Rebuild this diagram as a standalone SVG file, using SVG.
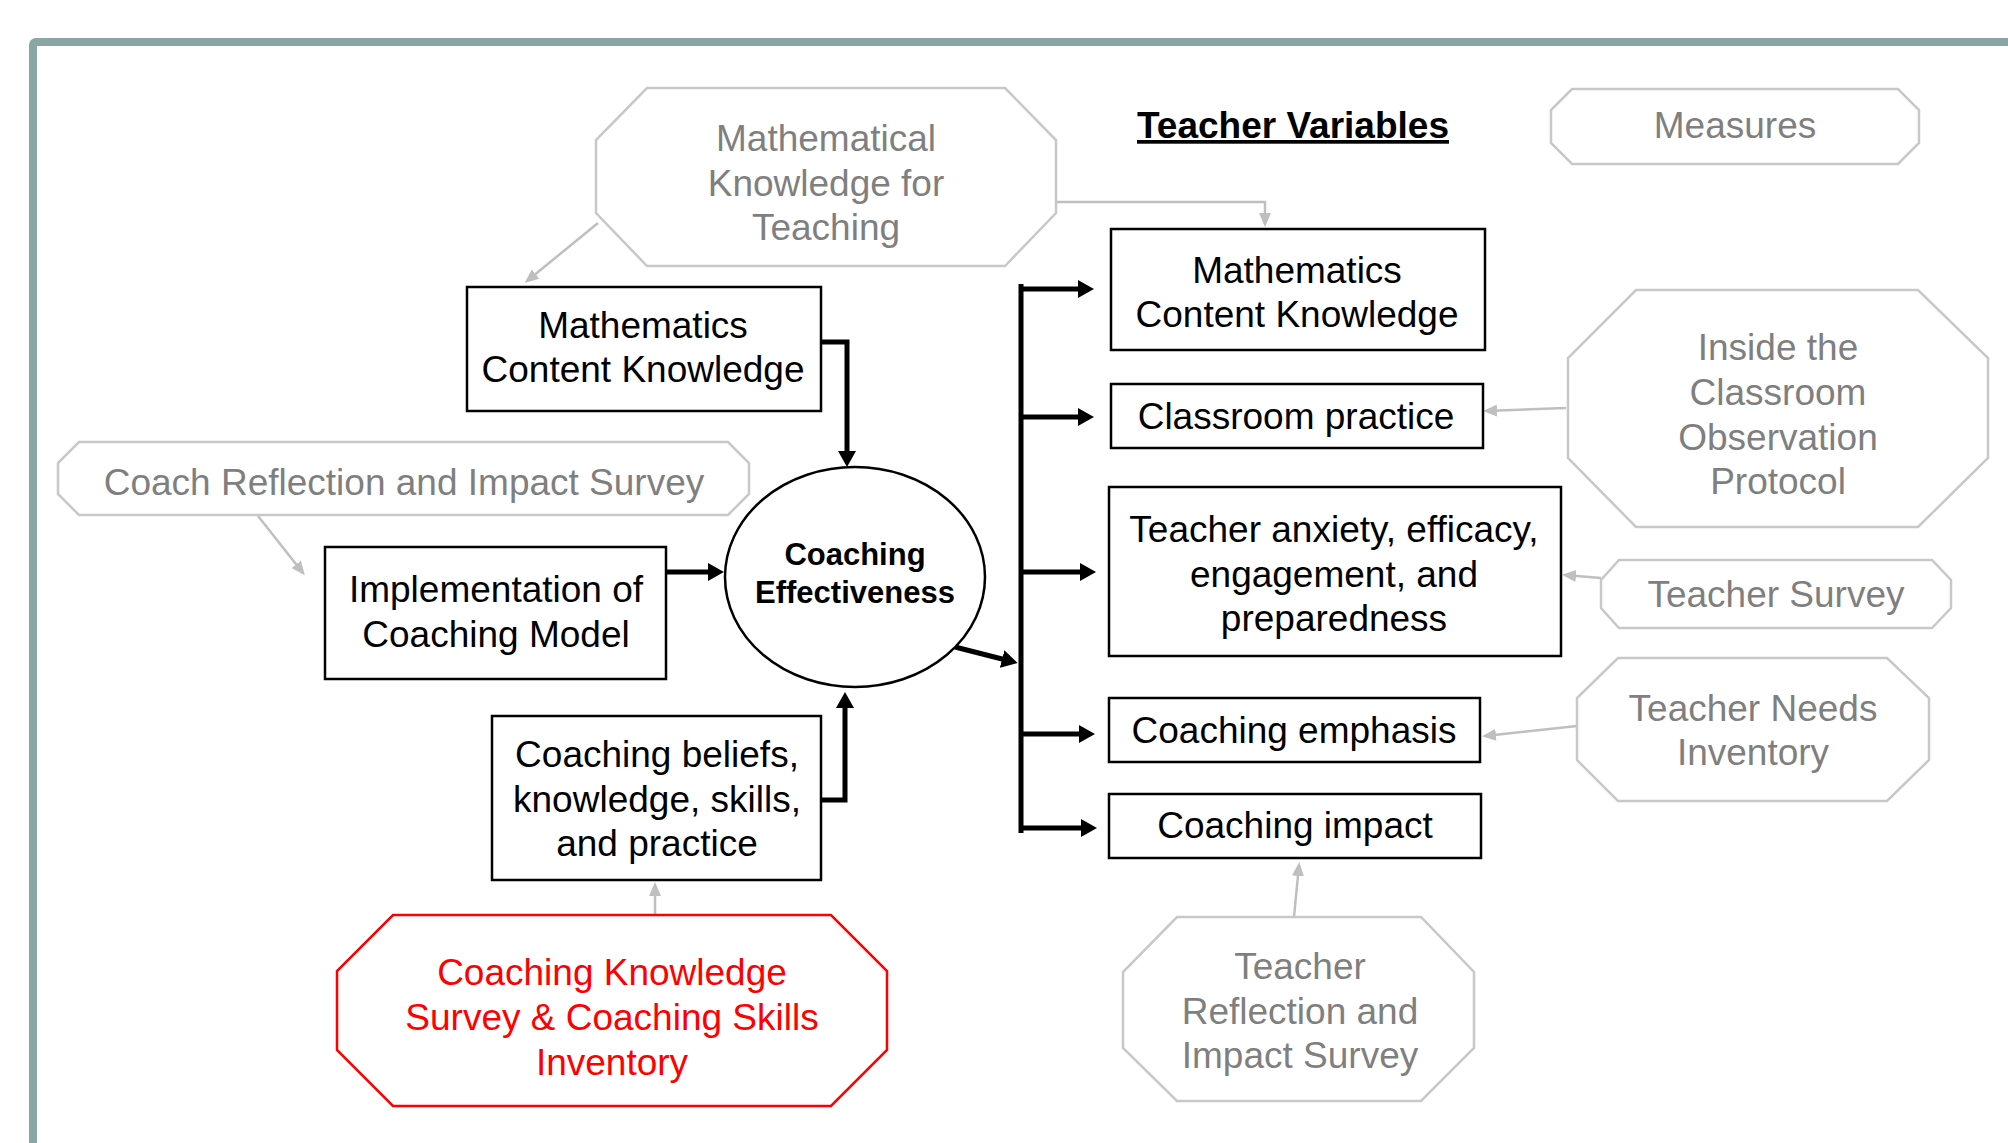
<svg xmlns="http://www.w3.org/2000/svg" width="2008" height="1143" viewBox="0 0 2008 1143">
  <style>
    text { font-family: "Liberation Sans", Arial, sans-serif; font-size: 37px; text-anchor: middle; }
    .box { fill: #ffffff; stroke: #000000; stroke-width: 2.5; }
    .oct { fill: #ffffff; stroke: #c8c8c8; stroke-width: 2.5; }
    .octred { fill: #ffffff; stroke: #ff0000; stroke-width: 2.5; }
    .dark { fill: #000000; }
    .grey { fill: #7f7f7f; }
    .red { fill: #ff0000; }
    .title { font-weight: bold; font-size: 37px; text-decoration: underline; }
    .centre { font-weight: bold; font-size: 31px; }
    .thick { fill: none; stroke: #000000; stroke-width: 5; }
    .thin { fill: none; stroke: #bfbfbf; stroke-width: 2.5; }
  </style>
  <defs>
    <marker id="ab" viewBox="0 0 16 18" refX="4" refY="9" markerWidth="16" markerHeight="18" markerUnits="userSpaceOnUse" orient="auto">
      <path d="M0,0 L16,9 L0,18 z" fill="#000000"/>
    </marker>
    <marker id="ag" viewBox="0 0 14 12" refX="11" refY="6" markerWidth="14" markerHeight="12" markerUnits="userSpaceOnUse" orient="auto">
      <path d="M0,0 L14,6 L0,12 z" fill="#bfbfbf"/>
    </marker>
  </defs>
  <rect width="2008" height="1143" fill="#ffffff"/>
  <rect id="frame" x="33" y="42" width="2100" height="1200" rx="3" fill="none" stroke="#8aa5a6" stroke-width="8"/>

  <g id="connectors">
    <path class="thick" d="M821,342 H847 V455" marker-end="url(#ab)"/>
    <path class="thick" d="M666,572 H712" marker-end="url(#ab)"/>
    <path class="thick" d="M821,800 H845 V704" marker-end="url(#ab)"/>
    <path class="thick" d="M955,647 L1006,660" marker-end="url(#ab)"/>
    <path class="thick" d="M1021,286.5 V830.5" stroke-linecap="square"/>
    <path class="thick" d="M1021,289 H1082" marker-end="url(#ab)"/>
    <path class="thick" d="M1021,417 H1082" marker-end="url(#ab)"/>
    <path class="thick" d="M1021,572 H1084" marker-end="url(#ab)"/>
    <path class="thick" d="M1021,734 H1083" marker-end="url(#ab)"/>
    <path class="thick" d="M1021,828 H1085" marker-end="url(#ab)"/>
    <path class="thin" d="M598,223 L527,281" marker-end="url(#ag)"/>
    <path class="thin" d="M1056,202 H1265 V224" marker-end="url(#ag)"/>
    <path class="thin" d="M258,516 L303,573" marker-end="url(#ag)"/>
    <path class="thin" d="M1566,408 L1486,411" marker-end="url(#ag)"/>
    <path class="thin" d="M1601,578 L1565,575" marker-end="url(#ag)"/>
    <path class="thin" d="M1577,726 L1485,736" marker-end="url(#ag)"/>
    <path class="thin" d="M1294,917 L1299,865" marker-end="url(#ag)"/>
    <path class="thin" d="M655,915 V885" marker-end="url(#ag)"/>
  </g>

  <g id="mkt">
    <polygon class="oct" points="647,88 1005,88 1056,140 1056,213 1005,266 647,266 596,213 596,140"/>
    <text class="grey" x="826" y="151">Mathematical</text>
    <text class="grey" x="826" y="196">Knowledge for</text>
    <text class="grey" x="826" y="240">Teaching</text>
  </g>

  <g id="teacher-variables">
    <text class="dark title" x="1293" y="138">Teacher Variables</text>
  </g>

  <g id="measures">
    <polygon class="oct" points="1572,89 1898,89 1919,110 1919,143 1898,164 1572,164 1551,143 1551,110"/>
    <text class="grey" x="1735" y="138">Measures</text>
  </g>

  <g id="mck-left">
    <rect class="box" x="467" y="287" width="354" height="124"/>
    <text class="dark" x="643" y="338">Mathematics</text>
    <text class="dark" x="643" y="382">Content Knowledge</text>
  </g>

  <g id="coach-reflection">
    <polygon class="oct" points="79,442 728,442 749,463 749,494 728,515 79,515 58,494 58,463"/>
    <text class="grey" x="404" y="495">Coach Reflection and Impact Survey</text>
  </g>

  <g id="implementation">
    <rect class="box" x="325" y="547" width="341" height="132"/>
    <text class="dark" x="496" y="602">Implementation of</text>
    <text class="dark" x="496" y="647">Coaching Model</text>
  </g>

  <g id="coaching-effectiveness">
    <ellipse cx="855" cy="577" rx="130" ry="110" fill="#ffffff" stroke="#000000" stroke-width="2.5"/>
    <text class="dark centre" x="855" y="565">Coaching</text>
    <text class="dark centre" x="855" y="603">Effectiveness</text>
  </g>

  <g id="coaching-beliefs">
    <rect class="box" x="492" y="716" width="329" height="164"/>
    <text class="dark" x="657" y="767">Coaching beliefs,</text>
    <text class="dark" x="657" y="812">knowledge, skills,</text>
    <text class="dark" x="657" y="856">and practice</text>
  </g>

  <g id="coaching-knowledge-survey">
    <polygon class="octred" points="393,915 831,915 887,971 887,1050 831,1106 393,1106 337,1050 337,971"/>
    <text class="red" x="612" y="985">Coaching Knowledge</text>
    <text class="red" x="612" y="1030">Survey &amp; Coaching Skills</text>
    <text class="red" x="612" y="1075">Inventory</text>
  </g>

  <g id="mck-right">
    <rect class="box" x="1111" y="229" width="374" height="121"/>
    <text class="dark" x="1297" y="283">Mathematics</text>
    <text class="dark" x="1297" y="327">Content Knowledge</text>
  </g>

  <g id="classroom-practice">
    <rect class="box" x="1111" y="384" width="372" height="64"/>
    <text class="dark" x="1296" y="429">Classroom practice</text>
  </g>

  <g id="teacher-anxiety">
    <rect class="box" x="1109" y="487" width="452" height="169"/>
    <text class="dark" x="1334" y="542">Teacher anxiety, efficacy,</text>
    <text class="dark" x="1334" y="587">engagement, and</text>
    <text class="dark" x="1334" y="631">preparedness</text>
  </g>

  <g id="coaching-emphasis">
    <rect class="box" x="1109" y="698" width="371" height="64"/>
    <text class="dark" x="1294" y="743">Coaching emphasis</text>
  </g>

  <g id="coaching-impact">
    <rect class="box" x="1109" y="794" width="372" height="64"/>
    <text class="dark" x="1295" y="838">Coaching impact</text>
  </g>

  <g id="itc-protocol">
    <polygon class="oct" points="1636,290 1918,290 1988,358 1988,458 1918,527 1636,527 1568,458 1568,358"/>
    <text class="grey" x="1778" y="360">Inside the</text>
    <text class="grey" x="1778" y="405">Classroom</text>
    <text class="grey" x="1778" y="450">Observation</text>
    <text class="grey" x="1778" y="494">Protocol</text>
  </g>

  <g id="teacher-survey">
    <polygon class="oct" points="1619,560 1932,560 1951,580 1951,608 1932,628 1619,628 1601,608 1601,580"/>
    <text class="grey" x="1776" y="607">Teacher Survey</text>
  </g>

  <g id="teacher-needs">
    <polygon class="oct" points="1618,658 1887,658 1929,698 1929,760 1887,801 1618,801 1577,760 1577,698"/>
    <text class="grey" x="1753" y="721">Teacher Needs</text>
    <text class="grey" x="1753" y="765">Inventory</text>
  </g>

  <g id="teacher-reflection">
    <polygon class="oct" points="1177,917 1421,917 1474,972 1474,1048 1421,1101 1177,1101 1123,1048 1123,972"/>
    <text class="grey" x="1300" y="979">Teacher</text>
    <text class="grey" x="1300" y="1024">Reflection and</text>
    <text class="grey" x="1300" y="1068">Impact Survey</text>
  </g>
</svg>
